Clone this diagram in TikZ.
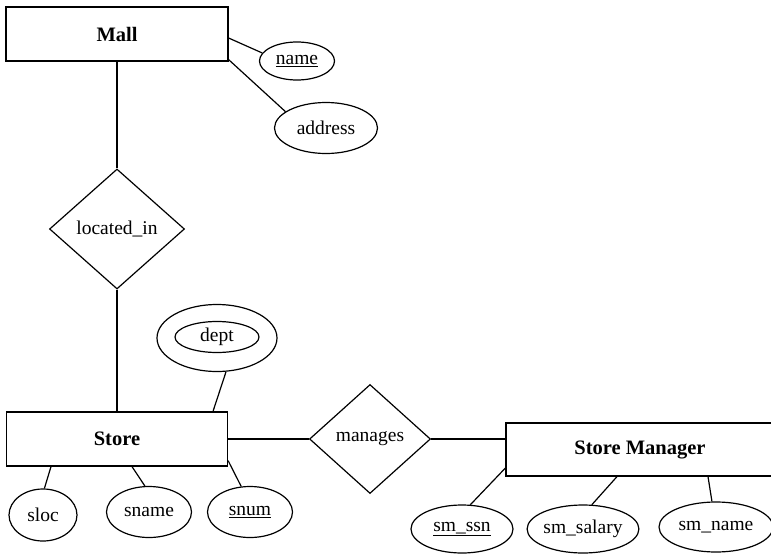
\documentclass[tikz,border=0pt]{standalone}
\usepackage{fontspec}
\setmainfont{Liberation Serif}
\usetikzlibrary{shapes.geometric,calc}

\tikzset{
  every node/.style={font=\fontsize{19.5}{22}\selectfont, inner sep=0pt, draw, line width=1.2pt},
  entity/.style={rectangle, font=\fontsize{20.5}{23}\selectfont\bfseries},
  attr/.style={ellipse},
  rel/.style={diamond},
  link/.style={line width=1.2pt},
  tick/.style={line width=2.2pt}
}

\begin{document}
\begin{tikzpicture}[x=1pt, y=-1pt]
  \useasboundingbox (0,0) rectangle (771,554);
  \clip (0,0) rectangle (771,554);

  % entities
  \node[entity, minimum width=222pt, minimum height=54pt] (mall)  at (117,34)    {Mall};
  \node[entity, minimum width=221pt, minimum height=54pt] (store) at (117,439)   {Store};
  \node[entity, minimum width=268pt, minimum height=53pt] (sm)    at (640,449.5) {Store Manager};

  % relationships
  \node[rel, minimum width=135pt, minimum height=120pt] (loc) at (117,229) {located\_in};
  \node[rel, minimum width=121pt, minimum height=109pt] (man) at (370,439) {manages};

  % attributes of Mall
  \node[attr, minimum width=75pt,  minimum height=38pt] (name) at (297,61)  {\underline{name}};
  \node[attr, minimum width=103pt, minimum height=51pt] (addr) at (326,128) {address};

  % attributes of Store
  \node[attr, minimum width=120pt, minimum height=67pt] (dept) at (217,338) {};
  \node[attr, minimum width=84pt,  minimum height=31pt] (depti) at (217,337) {dept};
  \node[attr, minimum width=68pt, minimum height=52pt] (sloc)  at (43,515)  {sloc};
  \node[attr, minimum width=85pt, minimum height=51pt] (sname) at (149,512) {sname};
  \node[attr, minimum width=85pt, minimum height=51pt] (snum)  at (250,512) {\underline{snum}};

  % attributes of Store Manager
  \node[attr, minimum width=102pt, minimum height=48pt] (ssn)    at (462,529) {\underline{sm\_ssn}};
  \node[attr, minimum width=108pt, minimum height=48pt] (salary) at (583,529) {sm\_salary};
  \node[attr, minimum width=114pt, minimum height=50pt] (smname) at (716,527) {sm\_name};

  % connectors
  \draw[link] ($(mall.east)+(0,4)$) -- (name.167);
  \draw[link] ($(mall.south east)+(0,-2)$) -- (addr.158.7);
  \draw[link] (mall.south) -- (loc.north);
  \draw[tick] ($(loc.north)+(0,-13)$) -- (loc.north);
  \draw[link] (loc.south) -- (store.north);
  \draw[tick] (loc.south) -- ($(loc.south)+(0,13)$);

  \draw[link] (dept.-75) -- ($(store.north)+(96,0)$);
  \draw[link] ($(store.south)+(-66,0)$) -- (sloc.87.8);
  \draw[link] ($(store.south)+(15,0)$) -- (sname.99);
  \draw[link] ($(store.south east)+(0,-6)$) -- (snum.109.8);

  \draw[link] (store.east) -- (man.west);
  \draw[link] (man.east) -- (man.east -| sm.west);

  \draw[link] ($(sm.west)+(0,18.5)$) -- (ssn.71.6);
  \draw[link] ($(sm.south)+(-23,0)$) -- (salary.70.2);
  \draw[link] ($(sm.south)+(68,0)$) -- (smname.99);
\end{tikzpicture}
\end{document}
